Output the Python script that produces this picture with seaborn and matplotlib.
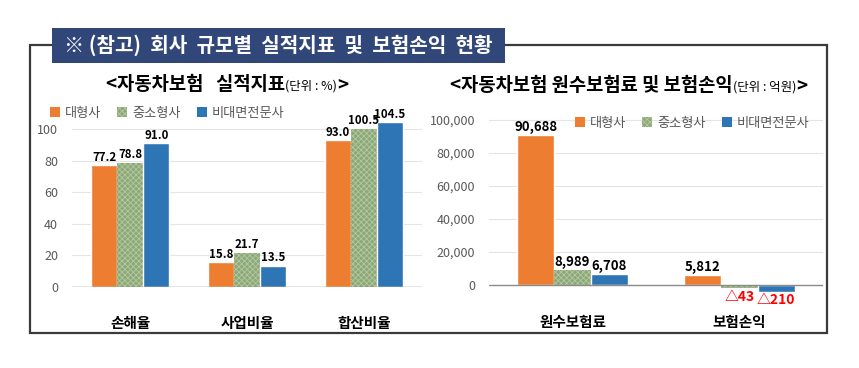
import matplotlib
matplotlib.use('Agg')
import matplotlib.pyplot as plt
import seaborn as sns
import pandas as pd
from matplotlib import font_manager as fm
from matplotlib.patches import Rectangle, Patch
from matplotlib.ticker import FuncFormatter

# ---------------- data ----------------
companies = ['대형사', '중소형사', '비대면전문사']

left_categories = ['손해율', '사업비율', '합산비율']
left_large = [77.2, 15.8, 93.0]
left_mid = [78.8, 21.7, 100.5]
left_online = [91.0, 13.5, 104.5]

right_categories = ['원수보험료', '보험손익']
right_large = [90688, 5812]
right_mid = [8989, -2000]      # drawn bar heights (as in picture)
right_online = [6708, -4000]   # drawn bar heights (as in picture)
right_large_labels = ['90,688', '5,812']
right_mid_labels = ['8,989', '△43']
right_online_labels = ['6,708', '△210']

left_yticks = [0, 20, 40, 60, 80, 100]
right_yticks = [0, 20000, 40000, 60000, 80000, 100000]

main_title = '※ (참고)  회사  규모별  실적지표  및  보험손익  현황'
left_title = ['<자동차보험   실적지표', '(단위 : %)', '>']
right_title = ['<자동차보험 원수보험료 및 보험손익', '(단위 : 억원)', '>']

# ---------------- style ----------------
sns.set_theme(style='white')
plt.rcParams['font.family'] = ['Noto Sans CJK KR', 'DejaVu Sans']
plt.rcParams['hatch.linewidth'] = 0.6

# narrow font for the data labels, if one is installed
names = {f.name for f in fm.fontManager.ttflist}
if 'Liberation Sans Narrow' in names:
    num_font = dict(family=['Liberation Sans Narrow', 'Noto Sans CJK KR'], fontsize=10.5)
else:
    num_font = dict(family=['Noto Sans CJK KR', 'DejaVu Sans'], fontsize=8.3)

colors = ['#ED7D31', '#8CA877', '#2E75B6']
hatch_color = '#B4C9A2'
W, H = 859, 368

fig = plt.figure(figsize=(W / 100, H / 100), dpi=100)
fig.patch.set_facecolor('white')

# outer frame and title box
fig.add_artist(Rectangle((30 / W, 1 - 333 / H), 797 / W, 288 / H, transform=fig.transFigure,
                         fill=False, ec='#3A3A3A', lw=1.6, zorder=0))
fig.add_artist(Rectangle((52 / W, 1 - 63 / H), 453 / W, 35 / H, transform=fig.transFigure,
                         fc='#31477A', ec='none', zorder=1))
fig.text(278.5 / W, 1 - 45.5 / H, main_title, color='white', fontsize=14.5, fontweight='bold',
         ha='center', va='center', zorder=2)


def make_df(cats, series):
    rows = []
    for comp, vals in zip(companies, series):
        for c, v in zip(cats, vals):
            rows.append({'cat': c, 'company': comp, 'value': v})
    return pd.DataFrame(rows)


def style_mid(ax):
    for bar in ax.containers[1]:
        bar.set_hatch('xxxxxx')
        bar.set_edgecolor(hatch_color)
        bar.set_linewidth(0)


# ---------------- left chart ----------------
ax1 = fig.add_axes([72 / W, 1 - 287 / H, 350 / W, 110 * 1.577 / H])
df1 = make_df(left_categories, [left_large, left_mid, left_online])
sns.barplot(data=df1, x='cat', y='value', hue='company', palette=colors, width=0.67,
            saturation=1, ax=ax1, legend=False)
style_mid(ax1)
ax1.set_ylim(0, 110)
ax1.set_yticks(left_yticks)
for cont, vals in zip(ax1.containers, [left_large, left_mid, left_online]):
    ax1.bar_label(cont, labels=[f'{v:.1f}' for v in vals], padding=1,
                  fontweight='bold', color='black', **num_font)

# ---------------- right chart ----------------
ax2 = fig.add_axes([489 / W, 1 - 301.5 / H, 334 / W, 198 / H])
df2 = make_df(right_categories, [right_large, right_mid, right_online])
sns.barplot(data=df2, x='cat', y='value', hue='company', palette=colors, width=0.66,
            saturation=1, ax=ax2, legend=False)
style_mid(ax2)
ax2.set_ylim(-10000, 110000)
ax2.set_yticks(right_yticks)
ax2.yaxis.set_major_formatter(FuncFormatter(lambda v, p: f'{v:,.0f}'))
for cont, labs in zip(ax2.containers, [right_large_labels, right_mid_labels, right_online_labels]):
    texts = ax2.bar_label(cont, labels=labs, padding=1, fontsize=9.5, fontweight='bold', color='black')
    for t, lab in zip(texts, labs):
        if lab.startswith('△'):
            t.set_color('#FF0000')
            t.set_fontsize(10)

for ax, pad in [(ax1, 20), (ax2, 9)]:
    ax.set_xlabel('')
    ax.set_ylabel('')
    for s in ax.spines.values():
        s.set_visible(False)
    ax.yaxis.grid(True, color='#E4E4E4', lw=0.8)
    ax.set_axisbelow(True)
    ax.axhline(0, color='#8C8C8C', lw=1.0, zorder=1)
    ax.tick_params(axis='y', length=0, labelsize=9, labelcolor='#595959', pad=10)
    ax.tick_params(axis='x', length=0, labelsize=10.5, labelcolor='black', pad=pad)
    for lab in ax.get_xticklabels():
        lab.set_fontweight('bold')

# ---------------- legends ----------------
def handles():
    hs = []
    for i, c in enumerate(colors):
        if i == 1:
            hs.append(Patch(facecolor=c, edgecolor=hatch_color, hatch='xxxxxx', lw=0))
        else:
            hs.append(Patch(facecolor=c, edgecolor='none'))
    return hs


for (x, y) in [(50, 113), (575, 123)]:
    fig.legend(handles(), companies, loc='center left', bbox_to_anchor=(x / W, 1 - y / H),
               frameon=False, ncol=3, handlelength=0.75, handleheight=0.75, handletextpad=0.4,
               columnspacing=1.2, fontsize=9.5, labelcolor='#595959', borderaxespad=0, borderpad=0)

# ---------------- sub titles ----------------
renderer = fig.canvas.get_renderer()


def seq_text(xc, y, parts):
    texts = []
    for s, size, weight in parts:
        texts.append(fig.text(0, 1 - y / H, s, fontsize=size, fontweight=weight,
                              color='black', va='baseline', ha='left'))
    widths = [t.get_window_extent(renderer).width for t in texts]
    x = xc - sum(widths) / 2
    for t, w in zip(texts, widths):
        t.set_x(x / W)
        x += w


seq_text(227, 90, [(left_title[0], 13.5, 'bold'), (left_title[1], 9, 'normal'),
                   (left_title[2], 13.5, 'bold')])
seq_text(629, 91, [(right_title[0], 13.5, 'bold'), (right_title[1], 9, 'normal'),
                   (right_title[2], 13.5, 'bold')])

fig.savefig('out.png', dpi=100)
